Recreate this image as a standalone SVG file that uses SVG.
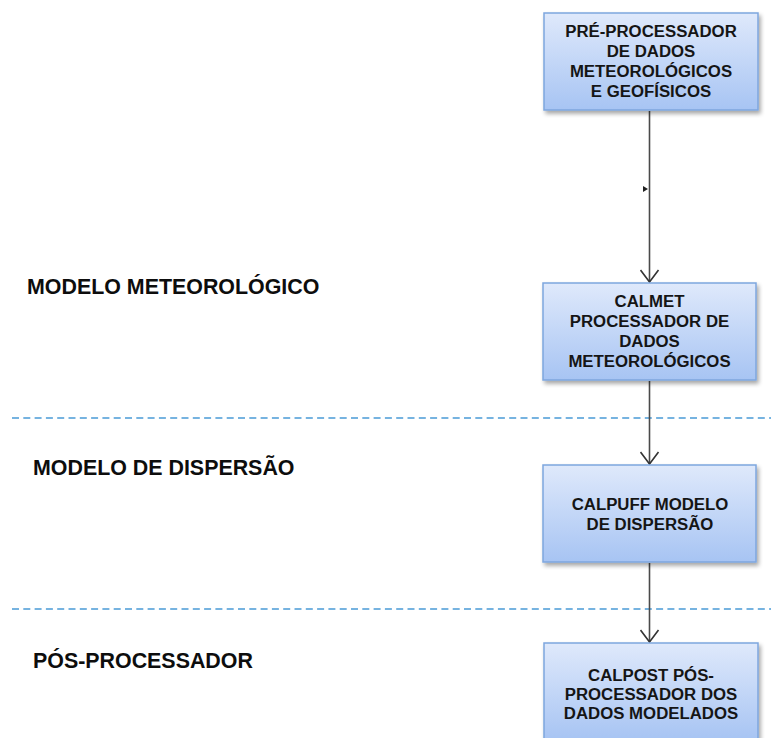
<svg xmlns="http://www.w3.org/2000/svg" width="771" height="738" viewBox="0 0 771 738">
<style>
.box{fill:url(#g);stroke:#7ea6de;stroke-width:1.5;filter:url(#sh)}
.bt{font-family:"Liberation Sans",Arial,sans-serif;font-weight:bold;font-size:16.8px;fill:#151515;text-anchor:middle}
.lab{font-family:"Liberation Sans",Arial,sans-serif;font-weight:bold;font-size:21.4px;fill:#0d0d0d}
.con{stroke:#4a4a4a;stroke-width:1.6;fill:none}
.dash{stroke:#4a9ad6;stroke-width:1.6;stroke-dasharray:7 4.3;fill:none}
</style>
<defs>
<linearGradient id="g" x1="0" y1="0" x2="0" y2="1">
<stop offset="0" stop-color="#dfe9fb"/>
<stop offset="1" stop-color="#a7c4f3"/>
</linearGradient>
<filter id="sh" x="-10%" y="-10%" width="125%" height="130%">
<feGaussianBlur in="SourceAlpha" stdDeviation="2"/>
<feOffset dx="1.5" dy="3" result="b"/>
<feComponentTransfer><feFuncA type="linear" slope="0.35"/></feComponentTransfer>
<feMerge><feMergeNode/><feMergeNode in="SourceGraphic"/></feMerge>
</filter>
<marker id="ah" markerWidth="14" markerHeight="20" viewBox="0 0 14 20" refX="13" refY="10" orient="auto" markerUnits="userSpaceOnUse">
<path d="M1,1 L13,10 L1,19" fill="none" stroke="#333" stroke-width="1.6"/>
</marker>
</defs>
<rect width="771" height="738" fill="#fff"/>
<g id="dividers">
<line class="dash" x1="12" y1="418" x2="771" y2="418"/>
<line class="dash" x1="12" y1="609" x2="771" y2="609"/>
</g>
<g id="labels">
<text class="lab" x="27" y="294">MODELO METEOROLÓGICO</text>
<text class="lab" x="33" y="475">MODELO DE DISPERSÃO</text>
<text class="lab" x="33" y="668">PÓS-PROCESSADOR</text>
</g>
<g id="connectors">
<line class="con" x1="649.5" y1="111" x2="649.5" y2="282" marker-end="url(#ah)"/>
<path d="M643,186 L648,189 L643,192 Z" fill="#222"/>
<line class="con" x1="649.5" y1="381" x2="649.5" y2="464" marker-end="url(#ah)"/>
<line class="con" x1="649.5" y1="563" x2="649.5" y2="642" marker-end="url(#ah)"/>
</g>
<g id="n1">
<rect class="box" x="544" y="13" width="214" height="97"/>
<text class="bt" x="651" y="37">PRÉ-PROCESSADOR</text>
<text class="bt" x="651" y="57">DE DADOS</text>
<text class="bt" x="651" y="77">METEOROLÓGICOS</text>
<text class="bt" x="651" y="97">E GEOFÍSICOS</text>
</g>
<g id="n2">
<rect class="box" x="543" y="283" width="213" height="97"/>
<text class="bt" x="649.5" y="307">CALMET</text>
<text class="bt" x="649.5" y="327">PROCESSADOR DE</text>
<text class="bt" x="649.5" y="347">DADOS</text>
<text class="bt" x="649.5" y="367">METEOROLÓGICOS</text>
</g>
<g id="n3">
<rect class="box" x="543" y="465" width="213" height="97"/>
<text class="bt" x="650" y="510">CALPUFF MODELO</text>
<text class="bt" x="650" y="530">DE DISPERSÃO</text>
</g>
<g id="n4">
<rect class="box" x="544" y="643" width="214" height="97"/>
<text class="bt" x="651" y="681">CALPOST PÓS-</text>
<text class="bt" x="651" y="700">PROCESSADOR DOS</text>
<text class="bt" x="651" y="719">DADOS MODELADOS</text>
</g>
</svg>
